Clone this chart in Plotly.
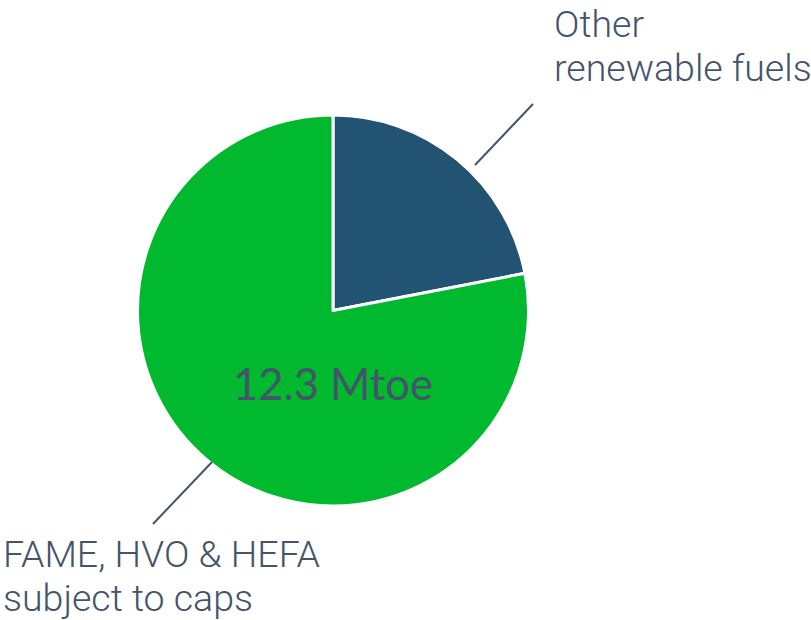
import plotly.graph_objects as go

# Renewable fuel volumes (Mtoe)
categories = ["Other<br>renewable fuels", "FAME, HVO & HEFA<br>subject to caps"]
values = [2.7, 9.6]
colors = ["#225373", "#00b92f"]
total_label = "12.3 Mtoe"

W, H = 811, 620
cx, cy, r = 333, 310.5, 195.5  # pie centre and radius in pixels

fig = go.Figure(go.Pie(
    labels=categories,
    values=values,
    sort=False,
    direction="clockwise",
    rotation=0,
    marker=dict(colors=colors, line=dict(color="white", width=3)),
    textinfo="none",
    hoverinfo="label+value",
    showlegend=False,
    domain=dict(x=[(cx - r) / W, (cx + r) / W],
                y=[1 - (cy + r) / H, 1 - (cy - r) / H]),
))

txt_color = "#44546a"
LABEL_SIZE = 37.5
LINE_GAP = 44
label_font = dict(family="Roboto", size=LABEL_SIZE, color=txt_color, weight=300)


def px(x, y):
    return x / W, 1 - y / H


shapes = []
# leader lines, each running diagonally outward from near the slice edge
leaders = [
    ((475, 165), (533, 104)),
    ((212, 462), (153, 524)),
]
for (x0, y0), (x1, y1) in leaders:
    a0, b0 = px(x0, y0)
    a1, b1 = px(x1, y1)
    shapes.append(dict(type="line", xref="paper", yref="paper",
                       x0=a0, y0=b0, x1=a1, y1=b1,
                       line=dict(color=txt_color, width=2)))

annotations = []
# category labels, one annotation per line for tight line spacing
label_pos = [(552, 24), (1, 554)]  # left edge, centre of first line
for text, (lx, ly) in zip(categories, label_pos):
    for i, line in enumerate(text.split("<br>")):
        x, y = px(lx, ly + i * LINE_GAP)
        annotations.append(dict(text=line, x=x, y=y, xref="paper", yref="paper",
                                xanchor="left", yanchor="middle", showarrow=False,
                                font=label_font))

tx, ty = px(cx, 383)
annotations.append(dict(text=total_label, x=tx, y=ty, xref="paper", yref="paper",
                        xanchor="center", yanchor="middle", showarrow=False,
                        font=dict(family="Lato", size=43.5, color=txt_color, weight=400)))

fig.update_layout(
    width=W, height=H,
    margin=dict(l=0, r=0, t=0, b=0),
    paper_bgcolor="white", plot_bgcolor="white",
    shapes=shapes, annotations=annotations,
)

fig.write_html("out.html")
